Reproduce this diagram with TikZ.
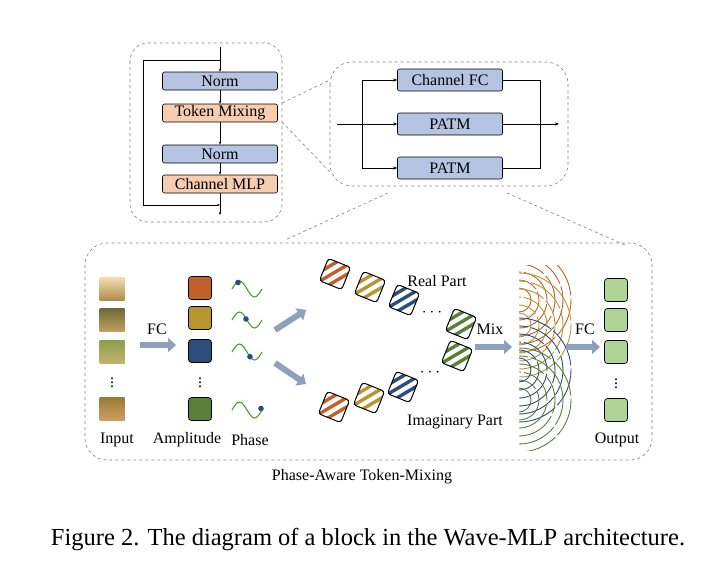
\documentclass[tikz,border=0pt]{standalone}
\usepackage{fontspec}
\setmainfont{Liberation Serif}
\usetikzlibrary{arrows.meta}
\definecolor{bb}{HTML}{B4C4E2}
\definecolor{ob}{HTML}{F6CDB0}
\definecolor{c1}{HTML}{C0602A}
\definecolor{c2}{HTML}{B8952F}
\definecolor{c3}{HTML}{2C4E7A}
\definecolor{c4}{HTML}{5A7F3A}
\definecolor{gr}{HTML}{AFD596}
\definecolor{ar}{HTML}{8FA0BC}
\definecolor{wv}{HTML}{4E9A3A}
\begin{document}
\begin{tikzpicture}[x=1pt,y=-1pt,
  box/.style={draw, rounded corners=2, line width=0.6, font=\fontsize{16}{17}\selectfont, inner sep=0},
  dsh/.style={draw=gray, dashed, line width=0.6},
  fat/.style={ar, line width=6, -{Triangle[length=8,width=14]}},
  lab/.style={font=\fontsize{16}{17}\selectfont},
  sq/.style={draw, rounded corners=3, minimum size=23, inner sep=0, line width=0.7},
  pics/tile/.style={code={
    \begin{scope}[rotate=-22]
    \begin{scope}
    \clip[rounded corners=3] (-12,-12) rectangle (12,12);
    \fill[white] (-12,-12) rectangle (12,12);
    \foreach \s in {-12,-2,8}
      \draw[#1, line width=3.4] (\s-10,13) -- (\s+10,-13);
    \end{scope}
    \draw[rounded corners=3, line width=1] (-12,-12) rectangle (12,12);
    \end{scope}}},
  pics/wave/.style={code={
    \draw[wv, line width=1.1] (0,0) sin (7.5,-8) cos (15,0) sin (22.5,8) cos (30,0);
    \fill[c3] (#1) circle (2.8);}}
]
\useasboundingbox (0,0) rectangle (720,574);
% top-left block
\draw[dsh, rounded corners=18] (130,43) rectangle (282,222);
\node[box, fill=bb, minimum width=115, minimum height=18] (n1) at (220,81) {Norm};
\node[box, fill=ob, minimum width=115, minimum height=18] (tm) at (220,113) {Token Mixing};
\node[box, fill=bb, minimum width=115, minimum height=18] (n2) at (220,154) {Norm};
\node[box, fill=ob, minimum width=115, minimum height=18] (cm) at (220,184) {Channel MLP};
\coordinate (tin) at (220,47); \coordinate (tout) at (220,215);
\coordinate (sp) at (220,60); \coordinate (jn) at (220,205);
\draw[-{Stealth[length=3]}] (tin) -- (n1);
\draw[-{Stealth[length=3]}] (n1) -- (tm);
\draw[-{Stealth[length=3]}] (tm) -- (n2);
\draw[-{Stealth[length=3]}] (n2) -- (cm);
\draw[-{Stealth[length=3]}] (cm) -- (tout);
\draw[-{Stealth[length=3]}] (sp) -| (143,205) -- (jn);
% top-right block
\draw[dsh, rounded corners=22] (330,62) rectangle (568,186);
\node[box, fill=bb, minimum width=105, minimum height=22] (fc) at (450,80) {Channel FC};
\node[box, fill=bb, minimum width=105, minimum height=22] (p1) at (450,124) {PATM};
\node[box, fill=bb, minimum width=105, minimum height=22] (p2) at (450,168) {PATM};
\coordinate (rin) at (337,124); \coordinate (br) at (362,124);
\coordinate (mg) at (540,124); \coordinate (rout) at (559,124);
\draw[-{Stealth[length=4]}] (rin) -- (p1);
\draw[-{Stealth[length=4]}] (br) |- (fc);
\draw[-{Stealth[length=4]}] (br) |- (p2);
\draw (fc) -| (mg); \draw (p2) -| (mg);
\draw[-{Stealth[length=4]}] (p1) -- (rout);
% zoom lines
\draw[dsh] (282,103) -- (330,80);
\draw[dsh] (282,122) -- (330,172);
\draw[dsh] (388,193) -- (285,240);
\draw[dsh] (507,193) -- (625,245);
% bottom block
\draw[dsh, rounded corners=22] (85,243) rectangle (652,460);
\node[lab] (cap1) at (362,477) {Phase-Aware Token-Mixing};
\node[font=\fontsize{24.5}{28}\selectfont] (cap) at (368,540) {Figure 2. The diagram of a block in the Wave-MLP architecture.};
% inputs
\foreach \y/\a/\b [count=\i] in {289/F2DDB0/B08A4A, 320/6E6A3A/C0A060, 352/8AA04A/C8B070, 409/9A7A3A/D0A060}
  {\definecolor{ia}{HTML}{\a}\definecolor{ib}{HTML}{\b}
   \node[minimum width=25, minimum height=23, inner sep=0, top color=ia, bottom color=ib] (in\i) at (112,\y) {};}
\node[lab, inner sep=0] (d0) at (112,380) {$\vdots$};
\node[lab] (il) at (117,440) {Input};
\draw[fat] (140,345) -- (176,345);
\node[lab] (fc1) at (157,329) {FC};
% amplitude
\node[sq, fill=c1] (a1) at (200,288) {};
\node[sq, fill=c2] (a2) at (200,318) {};
\node[sq, fill=c3] (a3) at (200,351) {};
\node[lab, inner sep=0] (d1) at (200,380) {$\vdots$};
\node[sq, fill=c4] (a4) at (200,409) {};
\node[lab] (al) at (187,440) {Amplitude};
\node[lab] (pl) at (250,440) {Phase};
\pic at (232,289) {wave={6,-6.5}};
\pic at (232,320) {wave={14,-1}};
\pic at (232,352) {wave={18,4.7}};
\pic at (232,410) {wave={29,-1.5}};
\draw[fat] (275,330) -- (306,310);
\draw[fat] (275,363) -- (306,384);
% real tiles
\pic at (335,274) {tile=c1};
\pic at (370,287) {tile=c2};
\pic at (404,300) {tile=c3};
\pic at (461,324) {tile=c4};
\node[lab] (d2) at (432,313) {$\cdots$};
\node[lab] (rl) at (437,281) {Real Part};
% imag tiles
\pic at (334,407) {tile=c1};
\pic at (369,398) {tile=c2};
\pic at (403,387) {tile=c3};
\pic at (457,356) {tile=c4};
\node[lab] (d3) at (430,373) {$\cdots$};
\node[lab] (iml) at (455,422) {Imaginary Part};
\node[lab] (mx) at (490,329) {Mix};
\draw[fat] (475,347) -- (512,347);
% arcs
\begin{scope}
\clip (519,265) rectangle (580,450);
\foreach \c/\y in {c1/300, c2/325, c3/370, c4/400}
  \foreach \r in {12,20,28,36,44,52}
    \draw[\c, line width=0.9, dash pattern=on 40 off 3] (519,\y+\r) arc[start angle=90, end angle=-90, radius=\r];
\end{scope}
\draw[fat] (566,347) -- (600,347);
\node[lab] (fc2) at (585,329) {FC};
% outputs
\node[sq, fill=gr] (o1) at (616,290) {};
\node[sq, fill=gr] (o2) at (616,320) {};
\node[sq, fill=gr] (o3) at (616,352) {};
\node[lab, inner sep=0] (d4) at (616,381) {$\vdots$};
\node[sq, fill=gr] (o4) at (616,410) {};
\node[lab] (ol) at (617,440) {Output};
\end{tikzpicture}
\end{document}
